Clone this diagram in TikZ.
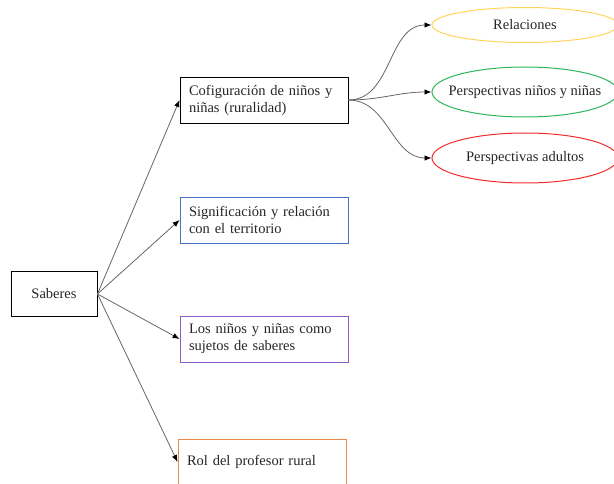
\documentclass[tikz,border=0pt]{standalone}
\usepackage{fontspec}
\setmainfont{Liberation Serif}
\usepackage{xcolor}
\usepackage{tikz}
\usetikzlibrary{shapes.geometric, arrows.meta}

\definecolor{boxblue}{HTML}{4472C4}
\definecolor{boxpurple}{HTML}{8E5CC8}
\definecolor{boxorange}{HTML}{E8894A}
\definecolor{ovalyellow}{HTML}{FFD45C}
\definecolor{ovalgreen}{HTML}{2DB55D}
\definecolor{ovalred}{HTML}{F52A2A}

\newcommand{\ovaltext}[1]{\makebox[0pt][c]{#1}}

\begin{document}
\begin{tikzpicture}[x=1pt,y=1pt,
    every node/.style={font=\fontsize{14.5}{17}\selectfont, text=black!85},
    topic/.style={draw, rectangle, line width=0.9pt, minimum width=168pt, minimum height=46pt,
        text width=150pt, align=left, inner sep=0pt},
    oval/.style={draw, ellipse, line width=1pt, minimum width=186pt, minimum height=50pt, inner sep=0pt},
    link/.style={draw=black!60, line width=0.8pt, -{Latex[black, length=7pt, width=5.5pt]}}
]
    \useasboundingbox (0,0) rectangle (614,483);

    % central box
    \node[draw, rectangle, line width=0.9pt, minimum width=86pt, minimum height=45pt] (saberes) at (54,189) {Saberes};

    % second level
    \node[topic] (config) at (264,383) {Cofiguración de niños y niñas (ruralidad)};
    \node[topic, draw=boxblue] (signif) at (264,263) {Significación y relación con el territorio};
    \node[topic, draw=boxpurple] (ninos) at (264,144) {Los niños y niñas como sujetos de saberes};
    \node[topic, draw=boxorange] (rol) at (262,21) {Rol del profesor rural};

    % third level
    \node[oval, draw=ovalyellow, minimum height=35pt] (rel) at (525,458) {\ovaltext{Relaciones}};
    \node[oval, draw=ovalgreen] (pninos) at (525,391) {\ovaltext{Perspectivas niños y niñas}};
    \node[oval, draw=ovalred] (padultos) at (525,325) {\ovaltext{Perspectivas adultos}};

    \foreach \t in {config, signif, ninos, rol}
        \draw[link] (saberes.east) -- (\t.west);

    \foreach \t in {rel, pninos, padultos}
        \draw[link] (config.east) to[out=0, in=180] (\t.west);

\end{tikzpicture}
\end{document}
